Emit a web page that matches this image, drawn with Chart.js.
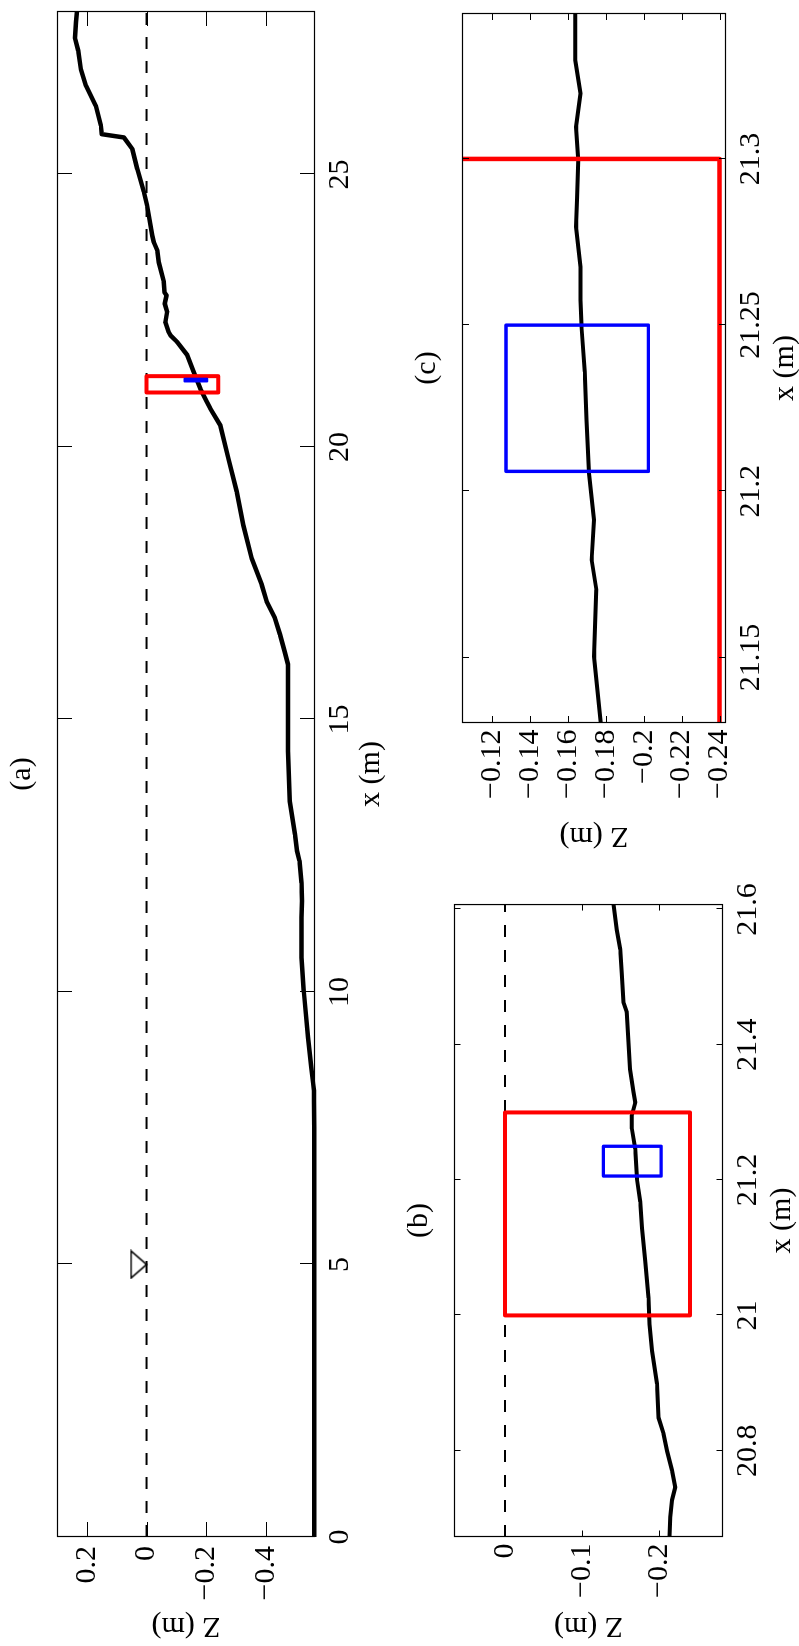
<!DOCTYPE html>
<html>
<head>
<meta charset="utf-8">
<script src="https://cdn.jsdelivr.net/npm/chart.js@4.4.1/dist/chart.umd.min.js"></script>
<style>
  html, body { margin: 0; padding: 0; background: #fff; overflow: hidden; }
  /* the figure is laid out landscape, then turned a quarter turn to the left */
  #figure {
    position: absolute; left: 0; top: 0;
    width: 1646px; height: 799px;
    transform-origin: 0 0;
    transform: translate(0, 1646px) rotate(-90deg);
  }
  #figure canvas { position: absolute; }
</style>
</head>
<body>
<div id="figure">
  <canvas id="panelA" width="1646" height="400" style="left:0;top:0;width:1646px;height:400px"></canvas>
  <canvas id="panelB" width="770" height="420" style="left:0;top:400px;width:770px;height:420px"></canvas>
  <canvas id="panelC" width="856" height="420" style="left:790px;top:400px;width:856px;height:420px"></canvas>
</div>
<script>
// (a) whole beach profile, x (m) / Z (m)
const profileX = [0, 2, 4, 6, 7.5, 8.0, 8.19, 8.32, 8.62, 9.17, 10.0, 10.63, 11.37, 11.67, 12.0, 12.41, 12.59, 12.89,
    13.5, 14.42, 15.34, 16.01, 16.24, 16.56, 16.86, 17.17, 17.47, 17.96, 18.57, 19.18, 19.79, 20.4, 20.71, 20.85,
    21.07, 21.38, 21.69, 21.93, 22.05, 22.11, 22.29, 22.48, 22.63, 22.78, 22.84, 23.03, 23.39, 23.61, 23.76, 23.88,
    24.43, 24.68, 25.1, 25.47, 25.68, 25.74, 25.9, 26.26, 26.63, 26.93, 27.27, 27.51, 27.8, 28.0];
const profileZ = [-0.562, -0.562, -0.562, -0.562, -0.562, -0.561, -0.561, -0.558, -0.552, -0.541, -0.527, -0.519, -0.519, -0.521, -0.519, -0.512, -0.504, -0.497,
    -0.48, -0.474, -0.474, -0.474, -0.463, -0.447, -0.43, -0.402, -0.386, -0.352, -0.324, -0.302, -0.274, -0.247, -0.213, -0.2,
    -0.18, -0.158, -0.136, -0.102, -0.08, -0.074, -0.063, -0.069, -0.061, -0.067, -0.06, -0.058, -0.041, -0.036, -0.024, -0.019,
    -0.002, 0.009, 0.031, 0.048, 0.076, 0.15, 0.153, 0.17, 0.203, 0.22, 0.229, 0.24, 0.236, 0.233];

// (b) zoom on the red area
const zoomBX = [20.6725, 20.702, 20.727, 20.746, 20.771, 20.8, 20.825, 20.849, 20.899, 20.948, 20.987, 21.026, 21.08,
    21.129, 21.168, 21.202, 21.246, 21.276, 21.296, 21.315, 21.33, 21.364, 21.403, 21.448, 21.462, 21.506, 21.541, 21.57, 21.608];
const zoomBZ = [-0.2134, -0.2143, -0.2165, -0.2208, -0.2165, -0.21, -0.2056, -0.199, -0.197, -0.1905, -0.1874, -0.1861, -0.1818,
    -0.1775, -0.1753, -0.171, -0.169, -0.1645, -0.1645, -0.169, -0.1665, -0.162, -0.16, -0.158, -0.1537, -0.1515, -0.1494, -0.145, -0.1407];

// (c) zoom on the blue area
const zoomCX = [21.1303, 21.1503, 21.1704, 21.1794, 21.1914, 21.2054, 21.2215, 21.236, 21.25, 21.2575, 21.2675, 21.2796,
    21.2876, 21.2996, 21.3096, 21.3197, 21.3297, 21.3439];
const zoomCZ = [-0.1774, -0.1739, -0.1751, -0.1726, -0.1738, -0.1712, -0.1699, -0.169, -0.1672, -0.1667, -0.1667, -0.1644,
    -0.1649, -0.1655, -0.1644, -0.1667, -0.164, -0.164];

const waterLevel = 0;
const gaugeX = 5;
const redBoxX = [21.0, 21.3];
const redBoxZ = [-0.24, 0];
const blueBoxX = [21.206, 21.25];
const blueBoxZ = [-0.2025, -0.1275];

const aXTicks = [0, 5, 10, 15, 20, 25];
const aZTicks = [-0.4, -0.2, 0, 0.2];
const bXTicks = [20.8, 21, 21.2, 21.4, 21.6];
const bZTicks = [-0.2, -0.1, 0];
const cXTicks = [21.15, 21.2, 21.25, 21.3];
const cZTicks = [-0.24, -0.22, -0.2, -0.18, -0.16, -0.14, -0.12];

(function () {
    const serif = '"Liberation Serif", "Times New Roman", serif';
    const fontSize = 30;

    Chart.defaults.font.family = serif;
    Chart.defaults.font.size = fontSize;
    Chart.defaults.color = '#000';

    function pts(xs, zs) {
        return xs.map((x, i) => ({ x: x, y: zs[i] }));
    }

    function box(xr, zr) {
        return [
            { x: xr[0], y: zr[0] }, { x: xr[1], y: zr[0] }, { x: xr[1], y: zr[1] },
            { x: xr[0], y: zr[1] }, { x: xr[0], y: zr[0] }
        ];
    }

    function label(value) {
        return String(value).replace('-', '\u2212');
    }

    function lineSet(data, color, width, extra) {
        return Object.assign({
            data: data,
            showLine: true,
            borderColor: color,
            backgroundColor: color,
            borderWidth: width,
            pointRadius: 0,
            pointHoverRadius: 0,
            tension: 0,
            borderJoinStyle: 'round',
            borderCapStyle: 'round',
            clip: 0
        }, extra || {});
    }

    // downward triangle with its tip on the point
    function gaugeMarker() {
        const c = document.createElement('canvas');
        c.width = 30;
        c.height = 34;
        const g = c.getContext('2d');
        g.strokeStyle = '#000';
        g.lineWidth = 1.6;
        g.beginPath();
        g.moveTo(1.5, 1.5);
        g.lineTo(28.5, 1.5);
        g.lineTo(15, 17);
        g.closePath();
        g.stroke();
        return c;
    }

    // matlab style box: frame, inward ticks on all four sides, panel letter
    const framePlugin = {
        id: 'frame',
        afterDatasetsDraw(chart, args, opts) {
            const ctx = chart.ctx;
            const a = chart.chartArea;
            const xs = chart.scales.x;
            const ys = chart.scales.y;
            const t = opts.tick;

            ctx.save();
            ctx.strokeStyle = '#000';
            ctx.lineWidth = 1;
            ctx.beginPath();
            xs.ticks.forEach(tk => {
                const px = Math.round(xs.getPixelForValue(tk.value)) + 0.5;
                ctx.moveTo(px, a.bottom);
                ctx.lineTo(px, a.bottom - t);
                ctx.moveTo(px, a.top);
                ctx.lineTo(px, a.top + t);
            });
            ys.ticks.forEach(tk => {
                const py = Math.round(ys.getPixelForValue(tk.value)) + 0.5;
                ctx.moveTo(a.left, py);
                ctx.lineTo(a.left + t, py);
                ctx.moveTo(a.right, py);
                ctx.lineTo(a.right - t, py);
            });
            ctx.stroke();
            ctx.lineWidth = 1.2;
            ctx.strokeRect(a.left + 0.5, a.top + 0.5, a.right - a.left - 1, a.bottom - a.top - 1);

            ctx.fillStyle = '#000';
            ctx.font = fontSize + 'px ' + serif;
            ctx.textAlign = 'center';
            ctx.textBaseline = 'middle';
            ctx.fillText(opts.text, (a.left + a.right) / 2, a.top - opts.gap);
            ctx.restore();
        }
    };

    function makePanel(id, p) {
        return new Chart(document.getElementById(id), {
            type: 'scatter',
            data: { datasets: p.datasets },
            options: {
                responsive: false,
                animation: false,
                devicePixelRatio: 1,
                events: [],
                layout: { padding: { top: p.top, right: p.right, left: 0, bottom: 0 } },
                plugins: {
                    legend: { display: false },
                    tooltip: { enabled: false },
                    frame: { tick: p.tick, text: p.text, gap: 35 }
                },
                scales: {
                    x: {
                        type: 'linear',
                        position: 'bottom',
                        min: p.xRange[0],
                        max: p.xRange[1],
                        afterFit: s => { s.height = p.xAxisHeight; },
                        afterBuildTicks: s => { s.ticks = p.xTicks.map(v => ({ value: v })); },
                        grid: { display: false, drawTicks: false },
                        border: { display: false },
                        ticks: { padding: p.xTickPad, autoSkip: false, maxRotation: 0, minRotation: 0, callback: label },
                        title: { display: true, text: 'x (m)', padding: { top: 0, bottom: p.xTitlePad } }
                    },
                    y: {
                        type: 'linear',
                        position: 'left',
                        min: p.zRange[0],
                        max: p.zRange[1],
                        afterFit: s => { s.width = p.left; },
                        afterBuildTicks: s => { s.ticks = p.zTicks.map(v => ({ value: v })); },
                        grid: { display: false, drawTicks: false },
                        border: { display: false },
                        ticks: { padding: p.zTickPad, autoSkip: false, callback: label },
                        title: { display: true, text: 'Z (m)', padding: { top: p.zTitlePad, bottom: 0 } }
                    }
                }
            },
            plugins: [framePlugin]
        });
    }

    const dashA = [12, 12];
    const dashB = [12, 13];

    makePanel('panelA', {
        left: 109, top: 57, right: 8, xAxisHeight: 85,
        xRange: [0, 28], zRange: [-0.5643, 0.3],
        xTicks: aXTicks, zTicks: aZTicks,
        xTickPad: 7, zTickPad: 9, xTitlePad: 11, zTitlePad: 2,
        tick: 15, text: '(a)',
        datasets: [
            lineSet(box(blueBoxX, blueBoxZ), '#0000ff', 2.4),
            lineSet(box(redBoxX, redBoxZ), '#ff0000', 4),
            {
                data: [{ x: gaugeX, y: waterLevel }],
                pointStyle: gaugeMarker(),
                pointRadius: 10,
                pointHoverRadius: 10,
                showLine: false,
                clip: false
            },
            lineSet(pts(profileX, profileZ), '#000', 4.5, { clip: { left: 0, top: 0, right: 0, bottom: 3 } }),
            lineSet([{ x: 0, y: waterLevel }, { x: 28, y: waterLevel }], '#000', 2, { borderDash: dashA, borderCapStyle: 'butt' })
        ]
    });

    makePanel('panelB', {
        left: 109, top: 54, right: 25, xAxisHeight: 97,
        xRange: [20.6725, 21.608], zRange: [-0.2827, 0.0662],
        xTicks: bXTicks, zTicks: bZTicks,
        xTickPad: 7, zTickPad: 6.5, xTitlePad: 19.5, zTitlePad: 2,
        tick: 6.5, text: '(b)',
        datasets: [
            lineSet(box(blueBoxX, blueBoxZ), '#0000ff', 3.3),
            lineSet(box(redBoxX, redBoxZ), '#ff0000', 4),
            lineSet(pts(zoomBX, zoomBZ), '#000', 4),
            lineSet([{ x: 20.6725, y: waterLevel }, { x: 21.608, y: waterLevel }], '#000', 2, { borderDash: dashB, borderCapStyle: 'butt' })
        ]
    });

    makePanel('panelC', {
        left: 133, top: 62, right: 13, xAxisHeight: 94,
        xRange: [21.1303, 21.3439], zRange: [-0.2434, -0.1043],
        xTicks: cXTicks, zTicks: cZTicks,
        xTickPad: 7, zTickPad: 6.5, xTitlePad: 16.5, zTitlePad: 2,
        tick: 7, text: '(c)',
        datasets: [
            lineSet(box(blueBoxX, blueBoxZ), '#0000ff', 3.4),
            lineSet(box(redBoxX, redBoxZ), '#ff0000', 4.5),
            lineSet(pts(zoomCX, zoomCZ), '#000', 4)
        ]
    });
})();
</script>
</body>
</html>
